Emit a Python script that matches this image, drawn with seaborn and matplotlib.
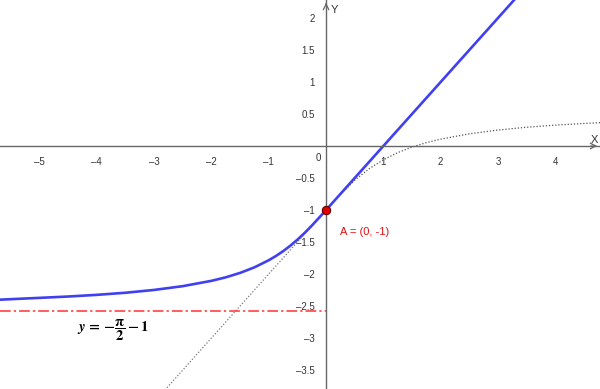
import numpy as np
import matplotlib
matplotlib.use("Agg")
import matplotlib.pyplot as plt
import seaborn as sns

# curve values (y = arctan(x) - 1 on the left branch)
left_x = [-5.8, -5.0, -4.5, -4.0, -3.5, -3.0, -2.5, -2.0, -1.75, -1.5, -1.25,
          -1.0, -0.875, -0.75, -0.625, -0.5, -0.375, -0.25, -0.125, 0.0]
left_y = [-2.406, -2.373, -2.352, -2.326, -2.293, -2.249, -2.190, -2.107, -2.052,
          -1.983, -1.896, -1.785, -1.719, -1.644, -1.559, -1.464, -1.359, -1.245,
          -1.124, -1.0]

# straight blue branch y = x - 1
right_x = [0.0, 3.5]
right_y = [-1.0, 2.5]

# dotted continuations
dot_line_x = [-3.5, 0.0]
dot_line_y = [-4.5, -1.0]
dot_curve_x = [0.0, 0.25, 0.5, 0.75, 1.0, 1.25, 1.5, 1.75, 2.0, 2.5, 3.0, 3.5, 4.0, 4.5, 5.0]
dot_curve_y = [-1.0, -0.755, -0.536, -0.356, -0.215, -0.104, -0.017, 0.052, 0.107,
               0.190, 0.249, 0.293, 0.326, 0.352, 0.373]

asym_y = -np.pi / 2 - 1
point_a = (0, -1)

x_ticks = [-5, -4, -3, -2, -1, 1, 2, 3, 4]
y_ticks = [-3.5, -3, -2.5, -2, -1.5, -1, -0.5, 0.5, 1, 1.5, 2]

sns.set_style("white")
plt.rcParams["font.family"] = ["Liberation Sans", "DejaVu Sans"]
plt.rcParams["mathtext.fontset"] = "stix"

fig = plt.figure(figsize=(6, 3.89), dpi=100)
ax = fig.add_axes([0, 0, 1, 1])
ax.set_xlim(-5.69, 4.78)
ax.set_ylim(-3.797, 2.281)

axis_col = "#666666"
for s in ["top", "right"]:
    ax.spines[s].set_visible(False)
ax.spines["left"].set_position("zero")
ax.spines["bottom"].set_position("zero")
ax.spines["left"].set_color(axis_col)
ax.spines["bottom"].set_color(axis_col)
ax.spines["left"].set_linewidth(1)
ax.spines["bottom"].set_linewidth(1)

ax.set_xticks(x_ticks)
ax.set_xticklabels([f"{t:g}".replace("-", "\u2013") for t in x_ticks])
ax.set_yticks(y_ticks)
ax.set_yticklabels([f"{t:g}".replace("-", "\u2013") for t in y_ticks])
ax.tick_params(axis="both", direction="out", length=3, width=0.8, color=axis_col,
               labelsize=7, labelcolor="#333333", pad=5)

# arrows on axes
ax.annotate("", xy=(1, 0), xytext=(0.98, 0), xycoords=("axes fraction", "data"),
            arrowprops=dict(arrowstyle="->", color=axis_col, lw=0.9, mutation_scale=10))
ax.annotate("", xy=(0, 1), xytext=(0, 0.98), xycoords=("data", "axes fraction"),
            arrowprops=dict(arrowstyle="->", color=axis_col, lw=0.9, mutation_scale=10))
ax.text(4.68, 0.09, "X", fontsize=8, color="#333333", ha="center", va="center")
ax.text(0.15, 2.13, "Y", fontsize=8, color="#333333", ha="center", va="center")
ax.annotate("0", xy=(0, 0), xytext=(-4, -5), textcoords="offset points",
            ha="right", va="top", fontsize=7, color="#333333")

# dotted helper curves
sns.lineplot(x=dot_line_x, y=dot_line_y, ax=ax, color="#777777", linestyle=(0, (1, 1.5)), lw=0.9)
sns.lineplot(x=dot_curve_x, y=dot_curve_y, ax=ax, color="#555555", linestyle=(0, (1, 1.5)), lw=0.9)

# asymptote
ax.axhline(asym_y, xmin=0, xmax=(0 + 5.69) / (4.78 + 5.69), color="#ff3030",
           lw=1.1, linestyle=(0, (7, 2, 1.5, 2)))

# main blue function
blue = "#4040f0"
sns.lineplot(x=left_x, y=left_y, ax=ax, color=blue, lw=1.9)
sns.lineplot(x=right_x, y=right_y, ax=ax, color=blue, lw=1.9)

ax.plot(*point_a, "o", color="#e00000", markeredgecolor="#600000", markersize=6,
        markeredgewidth=0.8, zorder=5)
ax.text(0.25, -1.34, "A = (0, -1)", color="#e01010", fontsize=8, ha="left", va="center")

ax.text(-4.35, -2.875,
        r"$\mathbfit{y}\,\mathbf{=}\,\mathbf{-}\dfrac{\mathbf{\pi}}{\mathbf{2}}\,\mathbf{-}\,\mathbf{1}$",
        fontsize=10.5, ha="left", va="center", color="black")

fig.savefig("out.png", dpi=100)
